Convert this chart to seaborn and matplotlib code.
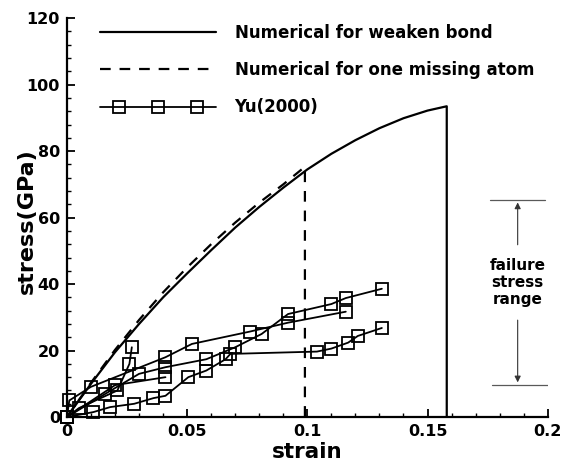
import numpy as np
import pandas as pd
import seaborn as sns
import matplotlib.pyplot as plt
from matplotlib.ticker import MultipleLocator, FuncFormatter
from matplotlib.lines import Line2D
from matplotlib.legend_handler import HandlerLine2D

# numerical curve, weaken bond (ends with the drop at failure)
strain_wb = [0, 0.01, 0.02, 0.03, 0.04, 0.05, 0.06, 0.07, 0.08, 0.09, 0.10,
             0.11, 0.12, 0.13, 0.14, 0.15, 0.158, 0.158]
stress_wb = [0, 10, 19.5, 28, 36, 43.2, 50.2, 57, 63.2, 69, 74.5,
             79.2, 83.3, 86.9, 89.9, 92.2, 93.5, 0]

# numerical curve, one missing atom
strain_ma = [0, 0.01, 0.02, 0.03, 0.04, 0.05, 0.06, 0.07, 0.08, 0.09, 0.099, 0.099]
stress_ma = [0, 10.3, 20.2, 29.2, 37.5, 45, 52, 58.5, 64.5, 70, 75.3, 0]

# Yu(2000) experimental curves
yu_strain = [
    [0, 0.011, 0.018, 0.028, 0.036, 0.041, 0.0505, 0.058, 0.066, 0.068,
     0.104, 0.110, 0.117, 0.121, 0.131],
    [0, 0.001, 0.010, 0.041, 0.052, 0.076, 0.092, 0.116],
    [0, 0.016, 0.030, 0.041, 0.058, 0.070, 0.081, 0.092, 0.110, 0.116, 0.131],
    [0, 0.005, 0.021, 0.026, 0.027],
    [0, 0.020, 0.041],
]
yu_stress = [
    [0, 1.5, 3, 4, 5.7, 6.4, 12, 14, 17.4, 19, 19.7, 20.6, 22.4, 24.4, 26.8],
    [0, 5, 9.1, 18, 22, 25.7, 28.4, 31.7],
    [0, 7, 13, 15, 17.4, 21, 25, 31, 34, 35.8, 38.6],
    [0, 2.7, 8, 16, 21],
    [0, 9.6, 12],
]

# failure stress range band
fail_lo, fail_hi = 9.6, 65.4

sns.set_style("ticks")
plt.rcParams["font.family"] = ["DejaVu Sans"]
plt.rcParams["font.weight"] = "bold"
for k in ["text.color", "axes.labelcolor", "xtick.color", "ytick.color", "axes.edgecolor"]:
    plt.rcParams[k] = "black"

fig = plt.figure(figsize=(5.67, 4.66), dpi=100)
ax = fig.add_axes([0.118, 0.105, 0.848, 0.856])

df_wb = pd.DataFrame({"strain": strain_wb, "stress": stress_wb})
df_ma = pd.DataFrame({"strain": strain_ma, "stress": stress_ma})

sns.lineplot(data=df_wb, x="strain", y="stress", sort=False, estimator=None,
             color="black", lw=1.6, ax=ax)
sns.lineplot(data=df_ma, x="strain", y="stress", sort=False, estimator=None,
             color="black", lw=1.6, ax=ax)
ax.lines[-1].set_dashes((4.8, 4.0))

for xs, ys in zip(yu_strain, yu_stress):
    d = pd.DataFrame({"strain": xs, "stress": ys})
    sns.lineplot(data=d, x="strain", y="stress", sort=False, estimator=None,
                 color="black", lw=1.3, marker="s", markersize=9,
                 markerfacecolor="none", markeredgecolor="black", markeredgewidth=1.3,
                 clip_on=False, ax=ax)

# failure stress range annotation
ax.plot([0.176, 0.199], [fail_hi, fail_hi], color="0.35", lw=0.9)
ax.plot([0.177, 0.200], [fail_lo, fail_lo], color="0.35", lw=0.9)
ax.annotate("", xy=(0.1875, fail_hi), xytext=(0.1875, 51),
            arrowprops=dict(arrowstyle="-|>", color="0.2", lw=0.8, mutation_scale=9))
ax.annotate("", xy=(0.1875, fail_lo), xytext=(0.1875, 30),
            arrowprops=dict(arrowstyle="-|>", color="0.2", lw=0.8, mutation_scale=9))
ax.text(0.1875, 40.5, "failure\nstress\nrange", ha="center", va="center",
        fontsize=11, fontweight="bold", linespacing=1.15)

ax.set_xlim(0, 0.2)
ax.set_ylim(0, 120)
ax.xaxis.set_major_locator(MultipleLocator(0.05))
ax.xaxis.set_minor_locator(MultipleLocator(0.01))
ax.yaxis.set_major_locator(MultipleLocator(20))
ax.yaxis.set_minor_locator(MultipleLocator(4))
ax.xaxis.set_major_formatter(FuncFormatter(lambda v, p: "%g" % round(v, 3)))
ax.tick_params(which="major", direction="in", length=6, width=1.3,
               labelsize=11.5, pad=5)
ax.tick_params(which="minor", direction="in", length=3, width=1.0)
for lab in ax.get_xticklabels() + ax.get_yticklabels():
    lab.set_fontweight("bold")

sns.despine(ax=ax)
for s in ["left", "bottom"]:
    ax.spines[s].set_linewidth(1.6)

ax.set_xlabel("strain", fontsize=15.5, fontweight="bold", labelpad=2)
ax.set_ylabel("stress(GPa)", fontsize=16, fontweight="bold")
ax.yaxis.set_label_coords(-0.062, 0.49)

# legend handles built to mimic the original key
h_wb = Line2D([], [], color="black", lw=1.6)
h_ma = Line2D([], [], color="black", lw=1.6, dashes=(4.8, 4.0))
h_yu_line = Line2D([], [], color="black", lw=1.3)
h_yu_mk = Line2D([], [], color="black", lw=0, marker="s", markersize=9,
                 markerfacecolor="none", markeredgewidth=1.3)
leg = ax.legend([h_wb, h_ma, (h_yu_line, h_yu_mk)],
                ["Numerical for weaken bond", "Numerical for one missing atom", "Yu(2000)"],
                loc="upper left", bbox_to_anchor=(0.068, 0.985),
                frameon=False, fontsize=12, handlelength=7.0, handletextpad=1.1,
                labelspacing=1.15, borderaxespad=0, borderpad=0,
                handler_map={h_yu_mk: HandlerLine2D(numpoints=3, marker_pad=1.15)})
for t in leg.get_texts():
    t.set_fontweight("bold")

fig.savefig("out.png", dpi=100)
